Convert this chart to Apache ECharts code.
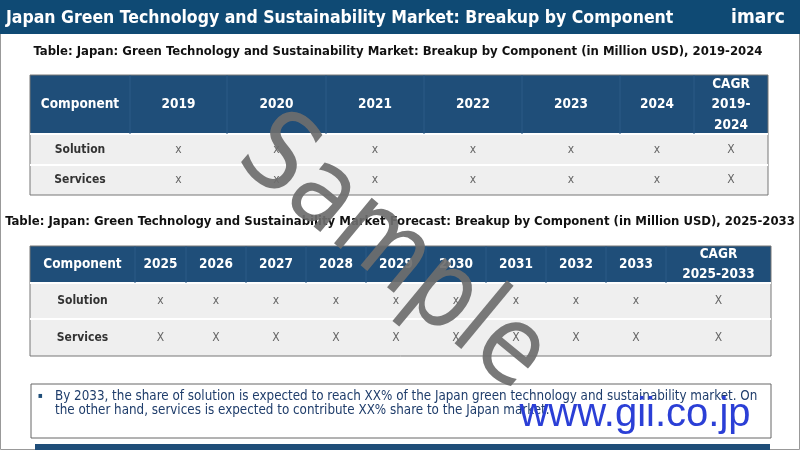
<!DOCTYPE html>
<html><head><meta charset="utf-8">
<script src="https://cdn.jsdelivr.net/npm/echarts@6/dist/echarts.min.js"></script>
<style>html,body{margin:0;padding:0;background:#fff}#c{width:800px;height:450px}</style>
</head><body><div id="c"></div>
<script>
const title = "Japan Green Technology and Sustainability Market: Breakup by Component";
const table1Title = "Table: Japan: Green Technology and Sustainability Market: Breakup by Component (in Million USD), 2019-2024";
const table2Title = "Table: Japan: Green Technology and Sustainability Market Forecast: Breakup by Component (in Million USD), 2025-2033";
const components = ["Solution", "Services"];
const header1 = ["Component","2019","2020","2021","2022","2023","2024","CAGR\n2019-\n2024"];
const rows1 = [["x","x","x","x","x","x","X"],["x","x","x","x","x","x","X"]];
const header2 = ["Component","2025","2026","2027","2028","2029","2030","2031","2032","2033","CAGR\n2025-2033"];
const rows2 = [["x","x","x","x","x","x","x","x","x","X"],["X","X","X","X","X","X","X","X","X","X"]];
const note = ["By 2033, the share of solution is expected to reach XX% of the Japan green technology and sustainability market. On",
              "the other hand, services is expected to contribute XX% share to the Japan market."];

const F = "'DejaVu Sans Condensed','DejaVu Sans',sans-serif";
const g = [];
function txt(x,y,s,o){g.push({type:'text',x:x,y:y,style:Object.assign({text:s,font:'12px '+F,fill:'#222',textAlign:'center',textVerticalAlign:'middle'},o||{}),z:5});}
function rect(x,y,w,h,fill,o){g.push({type:'rect',shape:{x:x,y:y,width:w,height:h},style:Object.assign({fill:fill},o||{}),z:1});}

rect(0.5,0.5,799,449,'#fff',{stroke:'#999',lineWidth:1});
rect(0,0,800,34,'#0f4a74');
txt(6,18,title,{textAlign:'left',font:'bold 17.5px '+F,fill:'#fff'});
txt(758,18,'imarc',{font:'bold 19px '+F,fill:'#fff'});
txt(398,52,table1Title,{font:'bold 13px '+F,fill:'#111'});
txt(400,222,table2Title,{font:'bold 13px '+F,fill:'#111'});

function table(x0,x1,yH,yR1,yR2,yEnd,edges,header,rows,fs){
  rect(x0,yH,x1-x0,yR1-yH,'#1f4e79');
  rect(x0,yR1,x1-x0,yEnd-yR1,'#efefef');
  g.push({type:'line',shape:{x1:x0,y1:yR2,x2:x1,y2:yR2},style:{stroke:'#fff',lineWidth:2},z:2});
  g.push({type:'line',shape:{x1:x0,y1:yR1,x2:x1,y2:yR1},style:{stroke:'#fff',lineWidth:2},z:2});
  rect(x0,yH,x1-x0,yEnd-yH,'none',{stroke:'#777',lineWidth:1});
  for(let i=1;i<edges.length-1;i++) g.push({type:'line',shape:{x1:edges[i],y1:yH,x2:edges[i],y2:yR1},style:{stroke:'#2d5b87',lineWidth:1},z:2});
  header.forEach((h,i)=>{const cx=(edges[i]+edges[i+1])/2; txt(cx,(yH+yR1)/2,h,{font:'bold '+fs+'px '+F,fill:'#fff',lineHeight:fs+7});});
  components.forEach((c,r)=>{const cy=r?(yR2+yEnd)/2:(yR1+yR2)/2;
    txt((edges[0]+edges[1])/2,cy,c,{font:'bold 12px '+F,fill:'#333'});
    rows[r].forEach((v,i)=>txt((edges[i+1]+edges[i+2])/2,cy,v,{font:'12px '+F,fill:'#666'}));});
}
table(30,768,75,134,165,195,[30,130,227,326,424,522,620,694,768],header1,rows1,13.5);
table(30,771,246,283,319,356,[30,135,186,246,306,366,426,486,546,606,666,771],header2,rows2,13.5);

rect(31,384,740,54,'#fff',{stroke:'#666',lineWidth:1});
txt(38,396,'▪',{font:'8px '+F,fill:'#1f4e79',textAlign:'left'});
note.forEach((s,i)=>txt(55,397+i*14,s,{textAlign:'left',font:'13.3px '+F,fill:'#1f3d6b'}));
rect(35,444,735,6,'#1f4e79');

g.push({type:'text',x:392,y:255,rotation:-Math.PI*0.22,style:{text:'Sample',font:'108px '+F,fill:'rgba(110,110,110,0.92)',textAlign:'center',textVerticalAlign:'middle'},z:10});
g.push({type:'text',x:635,y:415,style:{text:'www.gii.co.jp',font:'40px Liberation Sans, Arial',fill:'#2b3fd6',textAlign:'center',textVerticalAlign:'middle'},z:10});

const chart = echarts.init(document.getElementById('c'));
chart.setOption({animation:false,graphic:{elements:g}});
</script></body></html>
